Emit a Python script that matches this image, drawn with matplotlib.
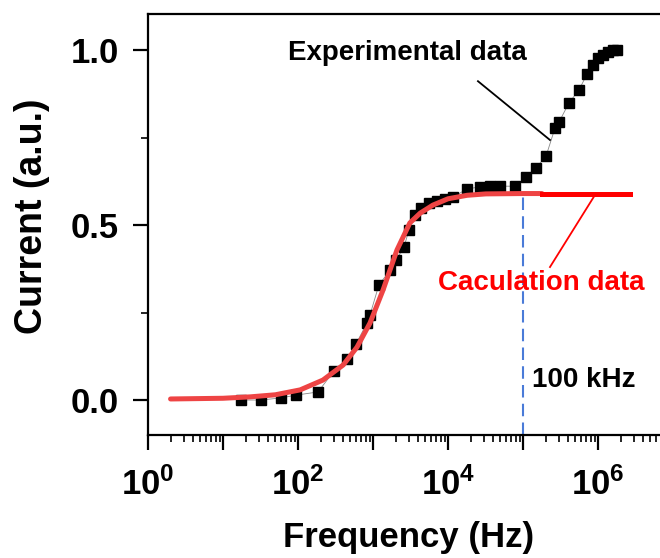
import matplotlib
matplotlib.use("Agg")
import matplotlib.pyplot as plt
from matplotlib.ticker import LogLocator, NullFormatter, MultipleLocator

plt.rcParams['font.family'] = ['Liberation Sans', 'DejaVu Sans']
plt.rcParams['font.weight'] = 'bold'
plt.rcParams['mathtext.fontset'] = 'custom'
plt.rcParams['mathtext.rm'] = 'Liberation Sans:bold'
plt.rcParams['mathtext.bf'] = 'Liberation Sans:bold'
plt.rcParams['mathtext.default'] = 'bf'

# experimental data (Hz, a.u.)
exp_freq = [17.4, 32.1, 59.3, 94, 185, 302, 450, 593, 832, 912, 1200, 1690,
            2030, 2590, 3020, 3630, 4370, 5580, 7130, 9120, 11700, 17900,
            26700, 36300, 49400, 78200, 110000, 149000, 203000, 267000,
            302000, 410000, 558000, 713000, 858000, 1000000, 1170000,
            1360000, 1590000, 1790000]
exp_current = [0.0, 0.0, 0.006, 0.014, 0.023, 0.083, 0.117, 0.16, 0.22, 0.243,
               0.329, 0.371, 0.40, 0.437, 0.486, 0.529, 0.549, 0.563, 0.569,
               0.574, 0.58, 0.603, 0.609, 0.611, 0.611, 0.611, 0.637, 0.663,
               0.697, 0.777, 0.794, 0.849, 0.886, 0.931, 0.957, 0.977, 0.986,
               0.994, 1.0, 1.0]

# calculated curve
calc_freq = [2, 10, 23, 50, 107, 215, 400, 612, 912, 1360, 2090, 3100, 4260,
             6300, 10000, 18000, 32000, 100000, 179000]
calc_current = [0.003, 0.005, 0.009, 0.015, 0.029, 0.057, 0.10, 0.151, 0.22,
                0.314, 0.429, 0.506, 0.534, 0.557, 0.575, 0.585, 0.589, 0.59,
                0.59]
ext_freq = [179000, 2670000]
ext_current = [0.59, 0.59]

fig = plt.figure(figsize=(6.6, 5.58), dpi=100)
ax = fig.add_axes([0.2242, 0.2204, 0.7955, 0.7545])

ax.plot(exp_freq, exp_current, color='#888888', lw=0.6, marker='s', ms=6.5,
        mfc='black', mec='black', zorder=2)
ax.plot(calc_freq, calc_current, color='#EE4444', lw=3.6, solid_capstyle='round', zorder=3)
ax.plot(ext_freq, ext_current, color='#FF0000', lw=3.6, zorder=3)
ax.plot([1e5, 1e5], [-0.1, 0.59], color='#4A7BD8', lw=1.5, ls=(0, (6, 3)), zorder=1)

ax.set_xscale('log')
ax.set_xlim(1, 1e7)
ax.set_ylim(-0.1, 1.103)

ax.xaxis.set_minor_locator(LogLocator(base=10, subs=range(2, 10), numticks=20))
ax.xaxis.set_minor_formatter(NullFormatter())
ax.set_xticks([1, 1e1, 1e2, 1e3, 1e4, 1e5, 1e6, 1e7],
              ['$10^{0}$', '', '$10^{2}$', '', '$10^{4}$', '', '$10^{6}$', ''])
ax.yaxis.set_major_locator(MultipleLocator(0.5))
ax.yaxis.set_minor_locator(MultipleLocator(0.25))

for s in ax.spines.values():
    s.set_linewidth(1.6)
ax.tick_params(which='major', direction='out', length=11, width=1.6, labelsize=25)
ax.tick_params(which='minor', direction='out', length=5, width=1.2)
ax.tick_params(axis='y', which='major', pad=10)
ax.tick_params(axis='x', which='major', pad=12)

ax.set_xlabel('Frequency (Hz)', fontsize=25, fontweight='bold')
ax.set_ylabel('Current (a.u.)', fontsize=27, fontweight='bold')
ax.xaxis.set_label_coords(0.497, -0.205)
ax.yaxis.set_label_coords(-0.187, 0.52)

ax.text(2840, 0.991, 'Experimental data', fontsize=20, fontweight='bold',
        ha='center', va='center')
ax.plot([25100, 229000], [0.911, 0.743], color='black', lw=1.3)
ax.text(174000, 0.334, 'Caculation data', fontsize=20, fontweight='bold',
        color='#FF0000', ha='center', va='center')
ax.plot([229000, 912000], [0.38, 0.586], color='#FF0000', lw=1.3)
ax.text(132000, 0.057, '100 kHz', fontsize=20, fontweight='bold', ha='left', va='center')

fig.savefig('out.png', dpi=100)
